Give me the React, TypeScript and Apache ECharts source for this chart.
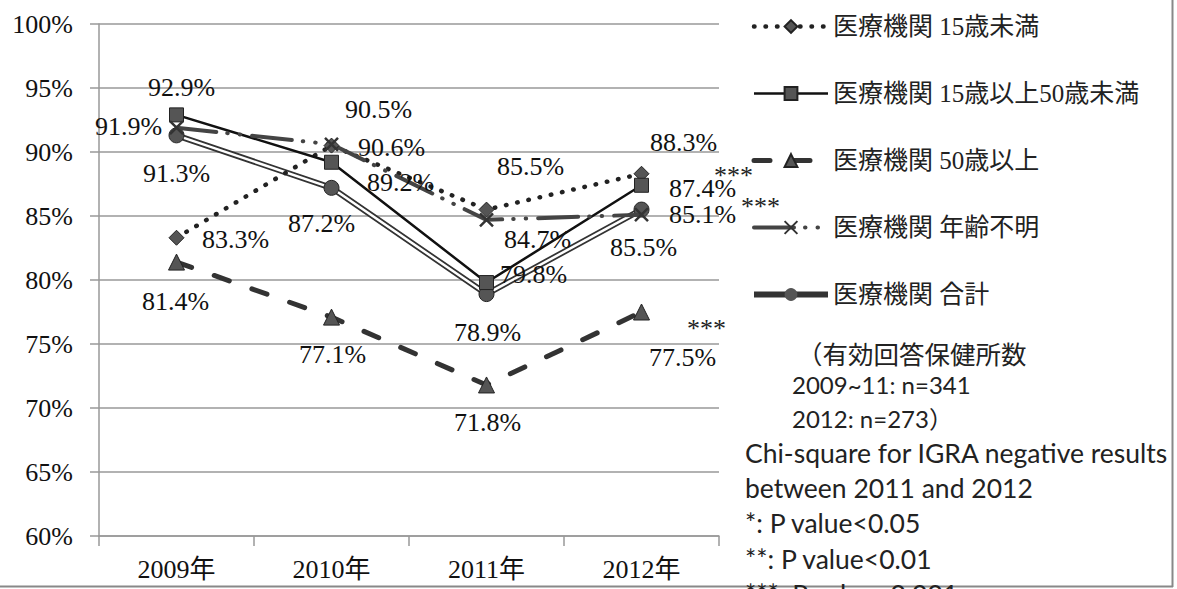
import React, { useEffect, useRef } from "react";
import * as echarts from "echarts";

const categories = ["2009年", "2010年", "2011年", "2012年"];
const seriesNames = [
  "医療機関 15歳未満",
  "医療機関 15歳以上50歳未満",
  "医療機関 50歳以上",
  "医療機関 年齢不明",
  "医療機関 合計",
];
const under15 = [83.3, 90.5, 85.5, 88.3];
const age15to49 = [92.9, 89.2, 79.8, 87.4];
const age50plus = [81.4, 77.1, 71.8, 77.5];
const ageUnknown = [91.9, 90.6, 84.7, 85.1];
const total = [91.3, 87.2, 78.9, 85.5];

const yMin = 60;
const yMax = 100;
const yStep = 5;

// significance markers: series index, category index, text
const significance = [
  { seriesIndex: 1, index: 3, text: "***" },
  { seriesIndex: 3, index: 3, text: "***" },
  { seriesIndex: 2, index: 3, text: "***" },
];

const noteLines = ["（有効回答保健所数", "2009~11: n=341", "2012: n=273）"];
const chiLines = [
  "Chi-square for IGRA negative results",
  "between 2011 and 2012",
  "*: P value<0.05",
  "**: P value<0.01",
  "***: P value<0.001",
];

// ---- styling (positions/offsets) ----
const labelOffsets: number[][][] = [
  [[59, 2], [47, -36], [44, -43], [42, -31]],
  [[5, -27], [69, 20], [47, -8], [61, 3]],
  [[-1, 39], [1, 37], [1, 38], [41, 45]],
  [[-48, -1], [60, 3], [51, 20], [61, 0]],
  [[0, 38], [-10, 36], [1, 38], [2, 38]],
];
const sigOffsets = [
  [92, -10],
  [119, -8],
  [65, 16],
];
const legendLineWidths = [4.5, 2.5, 5, 4, 6];

const SERIF = "'Liberation Serif', 'Noto Sans CJK JP', serif";
const SANS = "Lato, 'Noto Sans CJK JP', sans-serif";
const CJK = "'Noto Sans CJK JP', sans-serif";

function buildData(values: number[], offs: number[][]) {
  return values.map((v, i) => ({ value: v, label: { offset: offs[i] } }));
}

const labelBase = {
  show: true,
  position: "inside" as const,
  fontFamily: SERIF,
  fontSize: 26,
  color: "#111",
  formatter: (p: any) => Number(p.value).toFixed(1) + "%",
};

const markerStyle = { color: "#555", borderColor: "#222", borderWidth: 1 };

export default function App() {
  const ref = useRef<HTMLDivElement>(null);
  useEffect(() => {
    if (!ref.current) return;
    const chart = echarts.init(ref.current, null, { renderer: "svg" });
    const option: any = {
      animation: false,
      backgroundColor: "#fff",
      grid: { left: 99, right: 458, top: 24, bottom: 53, containLabel: false },
      legend: {
        orient: "vertical",
        left: 746,
        top: 8,
        itemWidth: 74,
        itemHeight: 16,
        itemGap: 40,
        selectedMode: false,
        data: seriesNames.map((n, i) => ({ name: n, lineStyle: { width: legendLineWidths[i] } })),
        textStyle: { fontFamily: SERIF, fontSize: 25, color: "#222", lineHeight: 27 },
      },
      xAxis: {
        type: "category",
        data: categories,
        boundaryGap: true,
        axisLine: { lineStyle: { color: "#999", width: 1.5 } },
        axisTick: { show: true, length: 10, lineStyle: { color: "#999", width: 1.5 } },
        axisLabel: { fontFamily: SERIF, fontSize: 26, color: "#111", margin: 20 },
      },
      yAxis: {
        type: "value",
        min: yMin,
        max: yMax,
        interval: yStep,
        axisLine: { show: true, lineStyle: { color: "#999", width: 1.5 } },
        axisTick: { show: true, length: 9, lineStyle: { color: "#999", width: 1.5 } },
        axisLabel: { fontFamily: SERIF, fontSize: 26, color: "#111", margin: 26, formatter: "{value}%" },
        splitLine: { lineStyle: { color: "#999", width: 1.5 } },
      },
      series: [
        {
          name: seriesNames[0],
          type: "line",
          data: buildData(under15, labelOffsets[0]),
          symbol: "diamond",
          symbolSize: 15,
          itemStyle: markerStyle,
          lineStyle: { color: "#222", width: 4.5, type: [0.5, 11], cap: "round" },
          label: labelBase,
          z: 3,
        },
        {
          name: seriesNames[1],
          type: "line",
          data: buildData(age15to49, labelOffsets[1]),
          symbol: "rect",
          symbolSize: 14,
          itemStyle: markerStyle,
          lineStyle: { color: "#111", width: 2.5 },
          label: labelBase,
          z: 3,
        },
        {
          name: seriesNames[2],
          type: "line",
          data: buildData(age50plus, labelOffsets[2]),
          symbol: "triangle",
          symbolSize: 16,
          itemStyle: markerStyle,
          lineStyle: { color: "#333", width: 5, type: [16, 24], cap: "round" },
          label: labelBase,
          z: 3,
        },
        {
          name: seriesNames[3],
          type: "line",
          data: buildData(ageUnknown, labelOffsets[3]),
          symbol: "path://M0,0 L10,10 M10,0 L0,10",
          symbolSize: 13,
          itemStyle: { color: "#333", borderColor: "#333", borderWidth: 2.5 },
          lineStyle: { color: "#444", width: 4, type: [40, 11, 0.5, 12, 0.5, 12], cap: "round" },
          label: labelBase,
          z: 3,
        },
        {
          name: seriesNames[4],
          type: "line",
          data: total,
          symbol: "none",
          itemStyle: { color: "#555" },
          lineStyle: { color: "#333", width: 6 },
          z: 2,
        },
        {
          name: seriesNames[4],
          type: "line",
          data: buildData(total, labelOffsets[4]),
          symbol: "circle",
          symbolSize: 15,
          itemStyle: markerStyle,
          lineStyle: { color: "#fff", width: 2.5 },
          label: labelBase,
          z: 2,
        },
      ],
    };
    chart.setOption(option);

    const graphics: any[] = [
      {
        type: "line",
        shape: { x1: 1172.5, y1: 0, x2: 1172.5, y2: 587 },
        style: { stroke: "#888", lineWidth: 2 },
      },
      {
        type: "line",
        shape: { x1: 0, y1: 586.5, x2: 1173, y2: 586.5 },
        style: { stroke: "#888", lineWidth: 2 },
      },
      { type: "text", x: 797, y: 352, style: { text: noteLines[0], fontFamily: CJK, fontSize: 25.5, fill: "#222", verticalAlign: "middle" } },
      { type: "text", x: 792, y: 384, style: { text: noteLines[1], fontFamily: SANS, fontSize: 24, fill: "#222", verticalAlign: "middle" } },
      { type: "text", x: 792, y: 418, style: { text: noteLines[2], fontFamily: SANS, fontSize: 24, fill: "#222", verticalAlign: "middle" } },
    ];
    chiLines.forEach((t, i) => {
      graphics.push({
        type: "text",
        x: 745,
        y: 453 + i * 35.2,
        style: { text: t, fontFamily: SANS, fontSize: 26.5, fill: "#222", verticalAlign: "middle" },
      });
    });
    const valuesBySeries = [under15, age15to49, age50plus, ageUnknown, total];
    significance.forEach((s, k) => {
      const pt = chart.convertToPixel({ seriesIndex: s.seriesIndex }, [s.index, valuesBySeries[s.seriesIndex][s.index]]) as number[];
      if (!pt) return;
      graphics.push({
        type: "text",
        x: pt[0] + sigOffsets[k][0],
        y: pt[1] + sigOffsets[k][1],
        style: {
          text: s.text,
          fontFamily: SERIF,
          fontSize: 26,
          lineHeight: 12,
          fill: "#222",
          align: "center",
          verticalAlign: "middle",
        },
      });
    });
    chart.setOption({ graphic: graphics });
    return () => chart.dispose();
  }, []);
  return (
    <div
      ref={ref}
      style={{ position: "fixed", left: 0, top: 0, width: 1177, height: 589, background: "#fff" }}
    />
  );
}
